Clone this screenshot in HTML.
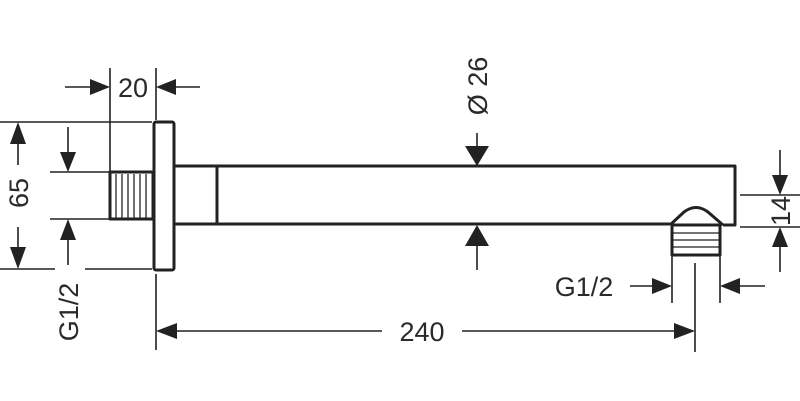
<!DOCTYPE html>
<html><head><meta charset="utf-8"><style>html,body{margin:0;padding:0;background:#fff}svg{display:block}</style></head><body>
<svg width="800" height="401" viewBox="0 0 800 401" xmlns="http://www.w3.org/2000/svg" font-family="Liberation Sans, sans-serif" font-size="27" fill="#2a2a2a">
<g stroke="#222" stroke-width="1.6" fill="none">
<line x1="110" y1="68" x2="110" y2="172"/>
<line x1="156" y1="68" x2="156" y2="120"/>
<line x1="65" y1="87" x2="92" y2="87"/>
<line x1="174" y1="87" x2="200" y2="87"/>
<line x1="0" y1="122" x2="152" y2="122"/>
<line x1="0" y1="269" x2="55" y2="269"/>
<line x1="85" y1="269" x2="152" y2="269"/>
<line x1="18" y1="140" x2="18" y2="165"/>
<line x1="18" y1="227" x2="18" y2="252"/>
<line x1="50" y1="172" x2="110" y2="172"/>
<line x1="50" y1="219" x2="110" y2="219"/>
<line x1="68" y1="127" x2="68" y2="154"/>
<line x1="68" y1="238" x2="68" y2="265"/>
<line x1="156" y1="274" x2="156" y2="350"/>
<line x1="174" y1="331" x2="382" y2="331"/>
<line x1="462" y1="331" x2="678" y2="331"/>
<line x1="695" y1="263" x2="695" y2="352"/>
<line x1="477" y1="133" x2="477" y2="150"/>
<line x1="477" y1="242" x2="477" y2="270"/>
<line x1="672" y1="255" x2="672" y2="303"/>
<line x1="720" y1="255" x2="720" y2="303"/>
<line x1="630" y1="286" x2="655" y2="286"/>
<line x1="737" y1="286" x2="765" y2="286"/>
<line x1="740" y1="195" x2="800" y2="195"/>
<line x1="740" y1="227" x2="800" y2="227"/>
<line x1="780" y1="150" x2="780" y2="178"/>
<line x1="780" y1="244" x2="780" y2="272"/>
</g>
<g fill="#222">
<polygon points="110,87 90,79 90,95"/>
<polygon points="156,87 176,79 176,95"/>
<polygon points="18,122 10,144 26,144"/>
<polygon points="18,269 10,247 26,247"/>
<polygon points="68,172 60,152 76,152"/>
<polygon points="68,219 60,240 76,240"/>
<polygon points="156,331 177,323 177,339"/>
<polygon points="695,331 674,323 674,339"/>
<polygon points="477,166 465,146 489,146"/>
<polygon points="477,225 465,246 489,246"/>
<polygon points="672,286 652,278 652,294"/>
<polygon points="720,286 740,278 740,294"/>
<polygon points="780,195 772,175 788,175"/>
<polygon points="780,227 772,247 788,247"/>
</g>
<g stroke="#222" stroke-width="3" fill="none" stroke-linejoin="round">
<rect x="154" y="122" width="20" height="148" rx="2"/>
<rect x="110" y="172" width="43" height="47"/>
<polyline points="174,166 735,166 735,225 723,225"/>
<line x1="174" y1="224" x2="670" y2="224"/>
<line x1="217" y1="166" x2="217" y2="224"/>
<path d="M670,225 L684,212 Q696,203 708,212 L723,225"/>
<rect x="672" y="225" width="48" height="30"/>
</g>
<g stroke="#222" stroke-width="1.3">
<line x1="116" y1="174" x2="116" y2="218"/><line x1="122" y1="174" x2="122" y2="218"/>
<line x1="128" y1="174" x2="128" y2="218"/><line x1="134" y1="174" x2="134" y2="218"/>
<line x1="140" y1="174" x2="140" y2="218"/><line x1="146" y1="174" x2="146" y2="218"/>
<line x1="673" y1="233" x2="719" y2="233"/><line x1="673" y1="240" x2="719" y2="240"/>
<line x1="673" y1="247" x2="719" y2="247"/>
</g>
<text x="133" y="97" text-anchor="middle">20</text>
<text x="422" y="341" text-anchor="middle">240</text>
<text x="584" y="296" text-anchor="middle">G1/2</text>
<text transform="translate(28,193) rotate(-90)" text-anchor="middle">65</text>
<text transform="translate(78,312) rotate(-90)" text-anchor="middle">G1/2</text>
<text transform="translate(487,86) rotate(-90)" text-anchor="middle">Ø 26</text>
<text transform="translate(790,211) rotate(-90)" text-anchor="middle">14</text>
</svg>
</body></html>
